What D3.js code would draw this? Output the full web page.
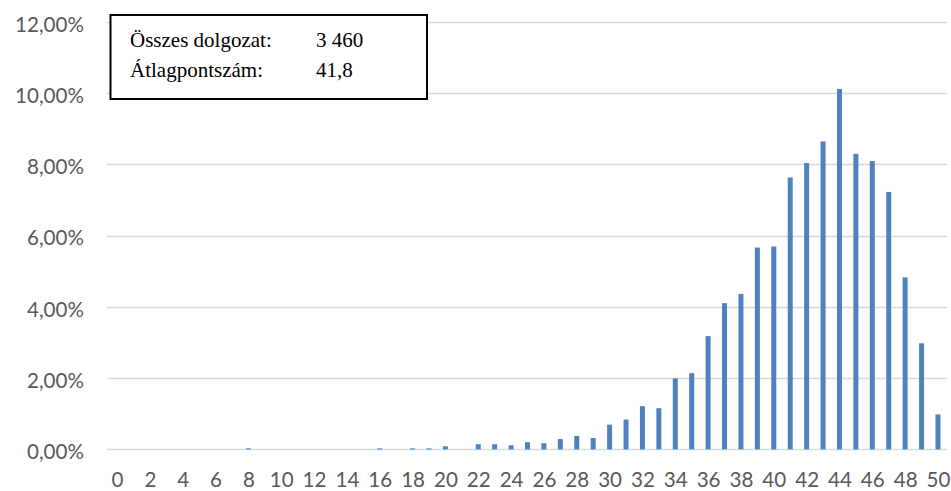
<!DOCTYPE html>
<html><head><meta charset="utf-8">
<script src="https://cdn.jsdelivr.net/npm/d3@7"></script>
<style>
html,body{margin:0;padding:0;background:#fff;}
svg{display:block;}
</style></head>
<body>
<svg id="chart" width="951" height="491"></svg>
<script>
// Categories: points on the test (0..50)
const scores = [0,1,2,3,4,5,6,7,8,9,10,11,12,13,14,15,16,17,18,19,20,21,22,23,24,25,26,27,28,29,30,31,32,33,34,35,36,37,38,39,40,41,42,43,44,45,46,47,48,49,50];
// Share of papers (%) per score
const shares = [0,0,0,0,0,0,0,0,0.029,0,0,0,0,0,0,0,0.029,0,0.029,0.029,0.087,0,0.145,0.145,0.116,0.202,0.173,0.289,0.376,0.318,0.694,0.838,1.214,1.156,1.994,2.139,3.179,4.104,4.364,5.665,5.694,7.630,8.035,8.642,10.116,8.295,8.092,7.225,4.827,2.977,0.983];
const xTickLabels = [0,2,4,6,8,10,12,14,16,18,20,22,24,26,28,30,32,34,36,38,40,42,44,46,48,50];
const yTicks = [0,2,4,6,8,10,12];
const infoLabels = ["Összes dolgozat:", "Átlagpontszám:"];
const infoValues = ["3 460", "41,8"];

const svg = d3.select("#chart");
const plotLeft = 108.8, plotRight = 946.2, plotTop = 21.8, plotBottom = 449.4;

const x = d3.scalePoint().domain(scores).range([plotLeft, plotRight]).padding(0.5);
const y = d3.scaleLinear().domain([0, 12]).range([plotBottom, plotTop]);
const fmt = v => v.toFixed(2).replace(".", ",") + "%";

// gridlines
svg.append("g").selectAll("line").data(yTicks).join("line")
  .attr("x1", 107).attr("x2", 947)
  .attr("y1", d => Math.round(y(d)) + 0.5).attr("y2", d => Math.round(y(d)) + 0.5)
  .attr("stroke", "#d9d9d9").attr("stroke-width", 1.5);

// y axis labels
const yAxis = d3.axisLeft(y).tickValues(yTicks).tickFormat(fmt).tickSize(0).tickPadding(0);
const gy = svg.append("g").attr("transform", "translate(84,2)").call(yAxis);
gy.select(".domain").remove();
gy.selectAll("text").attr("font-family", "Lato, 'Open Sans', sans-serif").attr("font-size", 20.6)
  .attr("fill", "#595959").attr("dy", "0.35em");

// x axis labels
const xAxis = d3.axisBottom(x).tickValues(xTickLabels).tickSize(0).tickPadding(0);
const gx = svg.append("g").attr("transform", "translate(0,472)").call(xAxis);
gx.select(".domain").remove();
gx.selectAll("text").attr("font-family", "Lato, 'Open Sans', sans-serif").attr("font-size", 20.6)
  .attr("fill", "#595959").attr("dy", "0.71em");

// bars
const bw = 5;
svg.append("g").selectAll("rect").data(scores).join("rect")
  .attr("x", (d) => x(d) - bw / 2)
  .attr("width", bw)
  .attr("y", (d, i) => y(shares[i]))
  .attr("height", (d, i) => y(0) - y(shares[i]))
  .attr("fill", "#4f81bd");

// info box
const box = svg.append("g");
box.append("rect").attr("x", 110.5).attr("y", 15).attr("width", 316.5).attr("height", 84)
  .attr("fill", "#fff").attr("stroke", "#000").attr("stroke-width", 2);
box.selectAll("text.lab").data(infoLabels).join("text").attr("class", "lab")
  .attr("x", 130).attr("y", (d, i) => 47 + i * 30)
  .attr("font-family", "'Liberation Serif', 'Times New Roman', serif").attr("font-size", 21)
  .attr("fill", "#000").text(d => d);
box.selectAll("text.val").data(infoValues).join("text").attr("class", "val")
  .attr("x", 316).attr("y", (d, i) => 47 + i * 30)
  .attr("font-family", "'Liberation Serif', 'Times New Roman', serif").attr("font-size", 21)
  .attr("fill", "#000").text(d => d);
</script>
</body></html>
